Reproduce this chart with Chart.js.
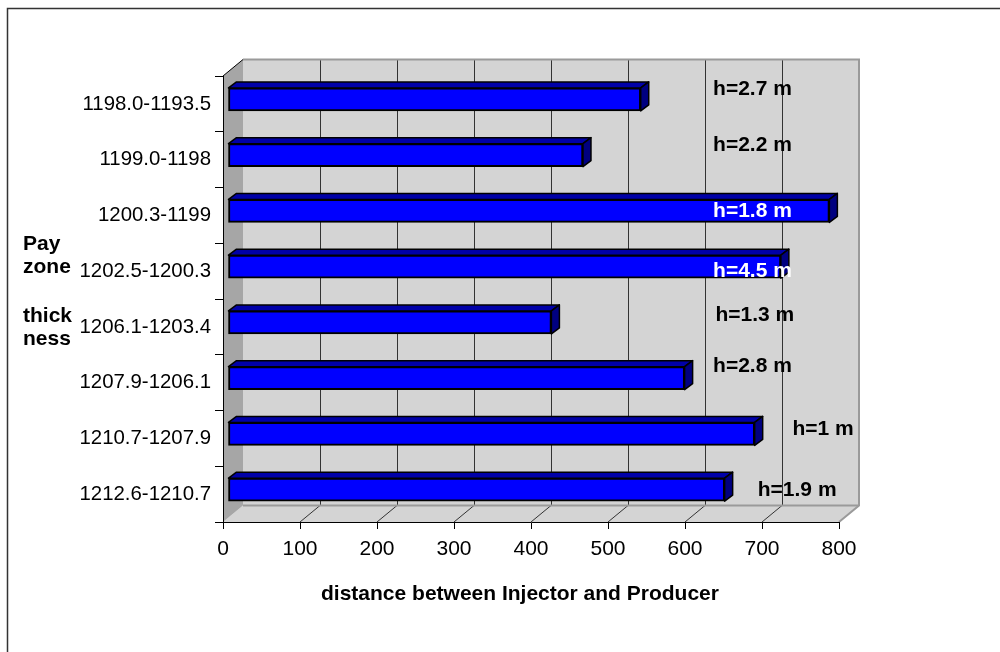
<!DOCTYPE html>
<html>
<head>
<meta charset="utf-8">
<script src="https://cdn.jsdelivr.net/npm/chart.js@4.4.1/dist/chart.umd.min.js"></script>
<style>
  html, body { margin: 0; padding: 0; background: #fff; }
  #wrap { width: 1000px; height: 652px; position: relative; }
</style>
</head>
<body>
<div id="wrap"><canvas id="chart"></canvas></div>
<script>
// Depth intervals of each pay zone (top of list = shallowest)
const categories = [
  '1198.0-1193.5',
  '1199.0-1198',
  '1200.3-1199',
  '1202.5-1200.3',
  '1206.1-1203.4',
  '1207.9-1206.1',
  '1210.7-1207.9',
  '1212.6-1210.7'
];

// Injector-to-producer distance for each zone
const distances = [536, 461, 781, 718, 420, 593, 684, 645];

// Net pay thickness written next to each bar
const thicknessLabels = ['h=2.7 m', 'h=2.2 m', 'h=1.8 m', 'h=4.5 m', 'h=1.3 m', 'h=2.8 m', 'h=1 m', 'h=1.9 m'];

// Distance axis
const xMin = 0;
const xMax = 800;
const xStep = 100;

const yTitleLines = ['Pay', 'zone', 'thick', 'ness'];
const xTitle = 'distance between Injector and Producer';

const FONT = '"Liberation Sans", Arial, Helvetica, sans-serif';
const FONT_SIZE = 21;

// Draws the 3-D box (walls, floor, grid), the bar depth faces and the annotations
const box3d = {
  id: 'box3d',
  beforeDraw(chart, args, opts) {
    const ctx = chart.ctx;
    const xs = chart.scales.x;
    const area = chart.chartArea;
    const L = area.left, T = area.top, B = area.bottom;
    const R = xs.getPixelForValue(xMax);
    const DX = opts.wallDX, DY = opts.wallDY;

    ctx.save();
    // outer frame
    ctx.strokeStyle = '#333';
    ctx.lineWidth = 1.5;
    ctx.beginPath();
    ctx.moveTo(7.5, 700);
    ctx.lineTo(7.5, 8.5);
    ctx.lineTo(1010, 8.5);
    ctx.stroke();

    // back wall
    ctx.fillStyle = '#d4d4d4';
    ctx.fillRect(L + DX, T + DY, R - L, B - T);

    // floor
    ctx.beginPath();
    ctx.moveTo(L, B);
    ctx.lineTo(L + DX, B + DY);
    ctx.lineTo(R + DX, B + DY);
    ctx.lineTo(R, B);
    ctx.closePath();
    ctx.fill();

    // side wall
    ctx.fillStyle = '#a6a6a6';
    ctx.beginPath();
    ctx.moveTo(L, T);
    ctx.lineTo(L + DX, T + DY);
    ctx.lineTo(L + DX, B + DY);
    ctx.lineTo(L, B);
    ctx.closePath();
    ctx.fill();

    // grid lines on the back wall and across the floor
    ctx.strokeStyle = '#333';
    ctx.lineWidth = 1;
    for (let v = xMin + xStep; v < xMax; v += xStep) {
      const px = xs.getPixelForValue(v);
      const bx = Math.round(px + DX) + 0.5;
      ctx.beginPath();
      ctx.moveTo(bx, T + DY);
      ctx.lineTo(bx, B + DY);
      ctx.stroke();
      ctx.beginPath();
      ctx.moveTo(px, B);
      ctx.lineTo(px + DX, B + DY);
      ctx.stroke();
    }

    // wall edges
    ctx.strokeStyle = '#9a9a9a';
    ctx.lineWidth = 2;
    ctx.beginPath();
    ctx.moveTo(L + DX, T + DY);
    ctx.lineTo(R + DX, T + DY);
    ctx.lineTo(R + DX, B + DY);
    ctx.lineTo(R, B);
    ctx.stroke();
    ctx.beginPath();
    ctx.moveTo(L + DX, B + DY);
    ctx.lineTo(R + DX, B + DY);
    ctx.stroke();

    ctx.strokeStyle = '#000';
    ctx.lineWidth = 1;
    ctx.beginPath();
    ctx.moveTo(L, T);
    ctx.lineTo(L + DX, T + DY);
    ctx.stroke();
    ctx.restore();
  },
  beforeDatasetsDraw(chart, args, opts) {
    chart.ctx.save();
    chart.ctx.translate(opts.barDX, opts.barDY);
  },
  afterDatasetsDraw(chart, args, opts) {
    const ctx = chart.ctx;
    const meta = chart.getDatasetMeta(0);
    const dx = opts.depthDX, dy = opts.depthDY;
    ctx.lineWidth = 1.5;
    ctx.strokeStyle = '#000';
    ctx.lineJoin = 'round';
    meta.data.forEach((bar) => {
      const { x, y, base, height } = bar.getProps(['x', 'y', 'base', 'height'], true);
      const top = y - height / 2;
      const bot = y + height / 2;
      // top face
      ctx.fillStyle = '#0000a8';
      ctx.beginPath();
      ctx.moveTo(base, top);
      ctx.lineTo(base + dx, top + dy);
      ctx.lineTo(x + dx, top + dy);
      ctx.lineTo(x, top);
      ctx.closePath();
      ctx.fill();
      ctx.stroke();
      // end face
      ctx.fillStyle = '#000080';
      ctx.beginPath();
      ctx.moveTo(x, top);
      ctx.lineTo(x + dx, top + dy);
      ctx.lineTo(x + dx, bot + dy);
      ctx.lineTo(x, bot);
      ctx.closePath();
      ctx.fill();
      ctx.stroke();
    });
    ctx.restore();

    // thickness annotations
    const xs = chart.scales.x;
    ctx.save();
    ctx.font = 'bold ' + FONT_SIZE + 'px ' + FONT;
    ctx.textAlign = 'left';
    ctx.textBaseline = 'alphabetic';
    meta.data.forEach((bar, i) => {
      const spot = opts.labelSpots[i];
      ctx.fillStyle = spot.color;
      ctx.fillText(thicknessLabels[i], xs.getPixelForValue(spot.at) + opts.barDX, bar.y + opts.barDY + spot.dy);
    });

    // axis titles
    ctx.fillStyle = '#000';
    yTitleLines.forEach((t, i) => ctx.fillText(t, opts.yTitleX, opts.yTitleBaselines[i]));
    ctx.textAlign = 'center';
    ctx.fillText(xTitle, opts.xTitleX, opts.xTitleBaseline);
    ctx.restore();
  }
};

new Chart(document.getElementById('chart'), {
  type: 'bar',
  data: {
    labels: categories,
    datasets: [{
      data: distances,
      backgroundColor: '#0000ff',
      borderColor: '#000',
      borderWidth: 2,
      borderSkipped: false,
      barThickness: 23
    }]
  },
  options: {
    indexAxis: 'y',
    responsive: true,
    maintainAspectRatio: false,
    animation: false,
    events: [],
    layout: { padding: { left: 0, top: 76, right: 161, bottom: 0 } },
    plugins: {
      legend: { display: false },
      tooltip: { enabled: false },
      title: { display: false },
      box3d: {
        wallDX: 20, wallDY: -16.5,
        barDX: 5, barDY: -4.5,
        depthDX: 8, depthDY: -6,
        labelSpots: [
          { at: 630, dy: -4, color: '#000' },
          { at: 630, dy: -4, color: '#000' },
          { at: 630, dy: 6, color: '#fff' },
          { at: 630, dy: 10, color: '#fff' },
          { at: 633, dy: -1.5, color: '#000' },
          { at: 630, dy: -6, color: '#000' },
          { at: 733, dy: 1, color: '#000' },
          { at: 688, dy: 6, color: '#000' }
        ],
        yTitleX: 23,
        yTitleBaselines: [250, 273, 322, 345],
        xTitleX: 520,
        xTitleBaseline: 600
      }
    },
    scales: {
      x: {
        type: 'linear',
        min: xMin,
        max: xMax,
        afterFit(scale) { scale.height = 130; },
        ticks: {
          stepSize: xStep,
          color: '#000',
          padding: 8,
          font: { family: FONT, size: FONT_SIZE }
        },
        grid: { drawOnChartArea: false, drawTicks: true, tickLength: 7, color: '#000' },
        border: { display: true, color: '#000', width: 1 }
      },
      y: {
        type: 'category',
        afterFit(scale) { scale.width = 223; },
        ticks: {
          color: '#000',
          padding: 4,
          font: { family: FONT, size: 20.4 }
        },
        grid: { offset: true, drawOnChartArea: false, drawTicks: true, tickLength: 8, color: '#000' },
        border: { display: true, color: '#000', width: 1 }
      }
    }
  },
  plugins: [box3d]
});
</script>
</body>
</html>
